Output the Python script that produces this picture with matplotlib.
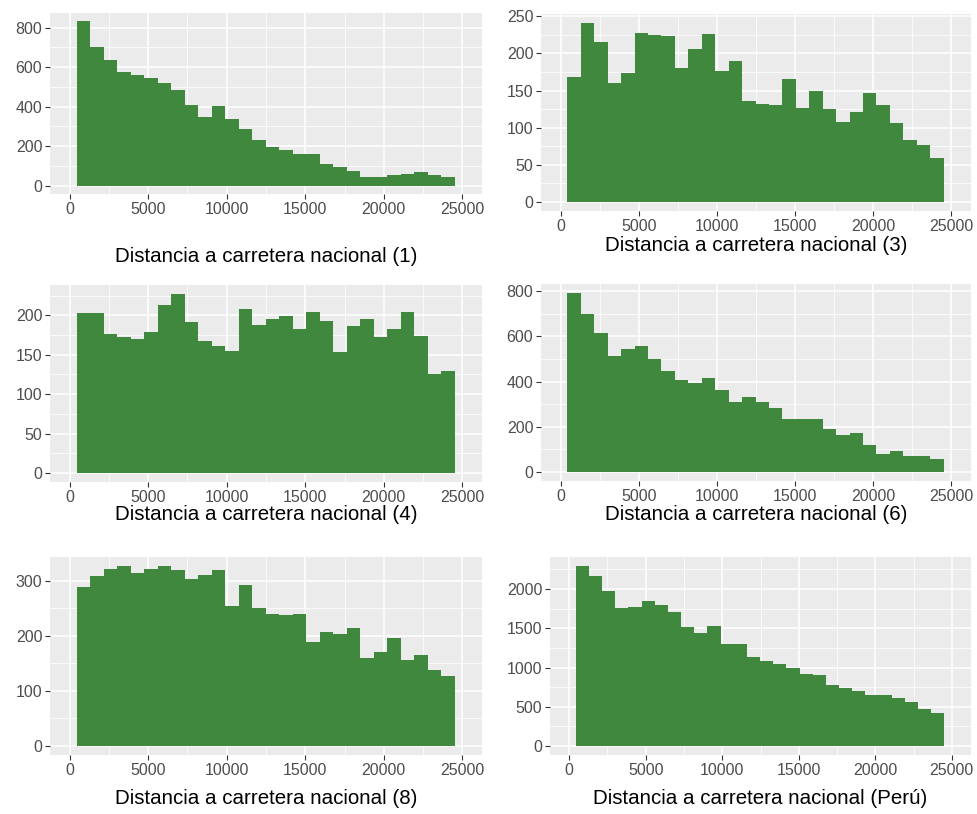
import numpy as np
import matplotlib
matplotlib.use("Agg")
import matplotlib.pyplot as plt
from matplotlib.ticker import MultipleLocator

plt.rcParams["font.family"] = ["Liberation Sans", "DejaVu Sans"]

# ---- data: 28 bins between ~440 and ~24500 m ----
bin_edges = np.linspace(440, 24500, 29)

counts_1 = [832, 703, 638, 577, 560, 545, 519, 482, 410, 346, 402, 339, 288, 231,
            196, 182, 160, 160, 109, 97, 73, 44, 44, 54, 61, 68, 53, 44]
counts_3 = [168, 241, 215, 160, 174, 228, 225, 224, 181, 206, 226, 177, 190, 136,
            132, 130, 166, 127, 149, 125, 108, 121, 147, 130, 106, 83, 77, 59]
counts_4 = [203, 203, 176, 172, 170, 179, 213, 227, 192, 167, 161, 155, 208, 188,
            195, 199, 183, 204, 193, 153, 186, 195, 172, 182, 204, 174, 126, 129]
counts_6 = [792, 700, 613, 514, 545, 558, 501, 446, 408, 395, 414, 365, 309, 334,
            309, 284, 236, 236, 236, 191, 162, 174, 118, 81, 93, 69, 69, 56]
counts_8 = [288, 308, 321, 327, 314, 321, 327, 319, 304, 311, 319, 255, 293, 250,
            240, 238, 240, 189, 207, 204, 215, 159, 171, 197, 156, 166, 138, 128]
counts_peru = [2294, 2166, 1974, 1757, 1774, 1851, 1796, 1706, 1511, 1434, 1528, 1298,
               1298, 1136, 1081, 1047, 991, 919, 902, 779, 740, 702, 651, 651, 613,
               557, 468, 417]

labels = ["Distancia a carretera nacional (1)", "Distancia a carretera nacional (3)",
          "Distancia a carretera nacional (4)", "Distancia a carretera nacional (6)",
          "Distancia a carretera nacional (8)", "Distancia a carretera nacional (Perú)"]
all_counts = [counts_1, counts_3, counts_4, counts_6, counts_8, counts_peru]
y_steps = [200, 50, 50, 200, 100, 500]

# panel boxes in pixels: left, top, right, bottom ; label centre y
W, H = 978, 814
boxes = [(50, 13, 482, 194, 257), (541, 14, 971, 211, 245),
         (50, 285, 482, 482, 515), (541, 284, 971, 481, 514),
         (50, 557, 482, 755, 798), (550, 557, 971, 755, 798)]

fig = plt.figure(figsize=(W / 100, H / 100), dpi=100)

for counts, lab, step, (l, t, r, b, ly) in zip(all_counts, labels, y_steps, boxes):
    ax = fig.add_axes([l / W, 1 - b / H, (r - l) / W, (b - t) / H])
    ax.set_facecolor("#EBEBEB")
    ax.stairs(counts, bin_edges, fill=True, color="#3F883D", zorder=3)

    ymax = max(counts)
    ax.set_ylim(-0.05 * ymax, 1.05 * ymax)
    ax.set_xlim(-1250, 26250)

    ax.xaxis.set_major_locator(MultipleLocator(5000))
    ax.xaxis.set_minor_locator(MultipleLocator(2500))
    ax.yaxis.set_major_locator(MultipleLocator(step))
    ax.yaxis.set_minor_locator(MultipleLocator(step / 2))
    ax.grid(which="major", color="white", linewidth=1.1, zorder=0)
    ax.grid(which="minor", color="white", linewidth=0.55, zorder=0)
    ax.set_axisbelow(True)

    for s in ax.spines.values():
        s.set_visible(False)
    ax.tick_params(which="major", length=3.5, width=0.8, color="#333333",
                   labelcolor="#4D4D4D", labelsize=11.5, pad=2)
    ax.tick_params(which="minor", length=0)

    ax.set_xlabel(lab, fontsize=14.8, color="black")
    ax.xaxis.set_label_coords(((l + r) / 2) / W, 1 - ly / H, transform=fig.transFigure)
    ax.xaxis.label.set_va("center")

fig.savefig("out.png", dpi=100)
